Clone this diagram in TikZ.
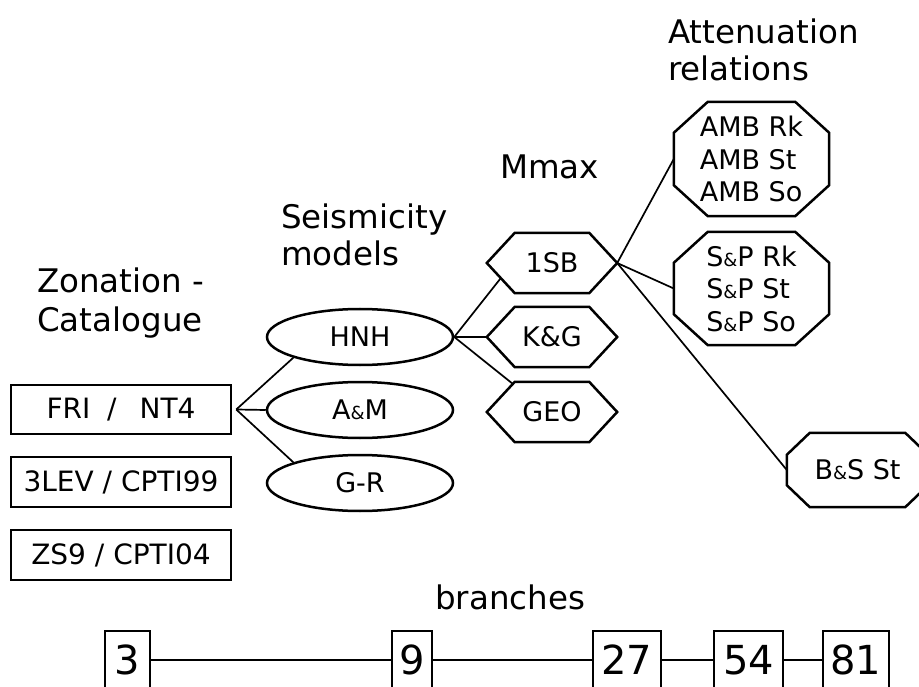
\documentclass[tikz,border=0pt]{standalone}
\usepackage{fontspec}
\setmainfont{DejaVu Sans}
\usetikzlibrary{shapes.geometric,calc}
\newcommand{\smallamp}{{\fontsize{18}{18}\selectfont\&}}
\newcommand{\octoutline}[3]{%
  \draw[outline] ($(#1.north west)+(#2,0)$) -- ($(#1.north east)+(-#2,0)$) -- ($(#1.north east)+(0,#3)$) -- ($(#1.south east)+(0,-#3)$) -- ($(#1.south east)+(-#2,0)$) -- ($(#1.south west)+(#2,0)$) -- ($(#1.south west)+(0,-#3)$) -- ($(#1.north west)+(0,#3)$) -- cycle;}
\newcommand{\hexoutline}[2]{%
  \draw[outline] ($(#1.north west)+(#2,0)$) -- ($(#1.north east)+(-#2,0)$) -- (#1.east) -- ($(#1.south east)+(-#2,0)$) -- ($(#1.south west)+(#2,0)$) -- (#1.west) -- cycle;}
\begin{document}
\begin{tikzpicture}[x=1pt,y=-1pt,
  heading/.style={anchor=base west,inner sep=0pt,font=\fontsize{32.5}{38}\selectfont},
  outline/.style={line width=2.5pt,line join=miter},
  txt/.style={font=\fontsize{27}{32.5}\selectfont,inner sep=0pt},
  box/.style={txt,font=\fontsize{28}{32}\selectfont,draw,line width=2.5pt,rectangle,minimum width=220pt,minimum height=49pt},
  oval/.style={txt,draw,line width=2.5pt,ellipse,minimum width=186pt,minimum height=56pt},
  hexa/.style={txt,rectangle,minimum width=130pt,minimum height=60pt},
  octa/.style={txt,rectangle,minimum width=155pt,minimum height=114pt,align=left},
  numbox/.style={draw,line width=2pt,rectangle,minimum height=58pt,inner sep=0pt,font=\fontsize{40}{40}\selectfont},
  link/.style={line width=1.7pt}
]
\useasboundingbox (0,0) rectangle (919,687);
\clip (0,0) rectangle (919,687);
\fill[white] (0,0) rectangle (919,687);

% headings
\node[heading] (h1a) at (668,44) {Attenuation};
\node[heading] (h1b) at (668,81) {relations};
\node[heading] (h2) at (500,179) {Mmax};
\node[heading] (h3a) at (281,229) {Seismicity};
\node[heading] (h3b) at (281,266) {models};
\node[heading] (h4a) at (37,293) {Zonation -};
\node[heading] (h4b) at (37,331) {Catalogue};
\node[heading] (h5) at (435,609) {branches};

% zonation boxes
\node[box] (fri) at (121,409.5) {FRI\ \hspace{8pt}/\ \hspace{14pt}NT4};
\node[box,minimum height=50pt] (lev) at (121,482) {3LEV / CPTI99};
\node[box,minimum height=50pt] (zs) at (121,555) {ZS9 / CPTI04};

% seismicity models
\node[oval] (hnh) at (360,337) {HNH};
\node[oval] (am) at (360,410) {A\smallamp M};
\node[oval] (gr) at (360,483) {G-R};

% Mmax
\node[hexa] (sb) at (552,263) {1SB};
\node[hexa] (kg) at (552,337) {K\&G};
\node[hexa] (geo) at (552,412) {GEO};
\hexoutline{sb}{28}
\hexoutline{kg}{28}
\hexoutline{geo}{28}

% attenuation relations
\node[octa] (amb) at (751.5,159) {AMB Rk\\AMB St\\AMB So};
\node[octa,minimum height=113pt] (sp) at (751.5,288.5) {S\smallamp P Rk\\S\smallamp P St\\S\smallamp P So};
\node[txt,rectangle,minimum width=141pt,minimum height=74pt] (bs) at (857.5,470) {B\smallamp S St};
\octoutline{amb}{34}{31}
\octoutline{sp}{34}{31}
\octoutline{bs}{23}{22}

% connectors
\coordinate (fj) at ($(fri.east)+(4,0)$);
\draw[link] (fj) -- (hnh.south west);
\draw[link] (fj) -- (am.west);
\draw[link] (fj) -- (gr.north west);

\coordinate (sbll) at ($(sb.west)!0.5!($(sb.south west)+(28,0)$)$);
\coordinate (geoul) at ($(geo.west)!0.93!($(geo.north west)+(28,0)$)$);
\draw[link] (hnh.east) -- (sbll);
\draw[link] (hnh.east) -- (kg.west);
\draw[link] (hnh.east) -- (geoul);

\draw[link] (sb.east) -- (amb.west);
\draw[link] (sb.east) -- (sp.west);
\draw[link] (sb.east) -- (bs.west);

% branches
\node[numbox,minimum width=45pt] (n3) at (127.5,660) {3};
\node[numbox,minimum width=40pt] (n9) at (412,660) {9};
\node[numbox,minimum width=68pt] (n27) at (627,660) {27};
\node[numbox,minimum width=69pt] (n54) at (748.5,660) {54};
\node[numbox,minimum width=66pt] (n81) at (856,660) {81};
\draw[link] (n3.east) -- (n9.west);
\draw[link] (n9.east) -- (n27.west);
\draw[link] (n27.east) -- (n54.west);
\draw[link] (n54.east) -- (n81.west);
\end{tikzpicture}
\end{document}
